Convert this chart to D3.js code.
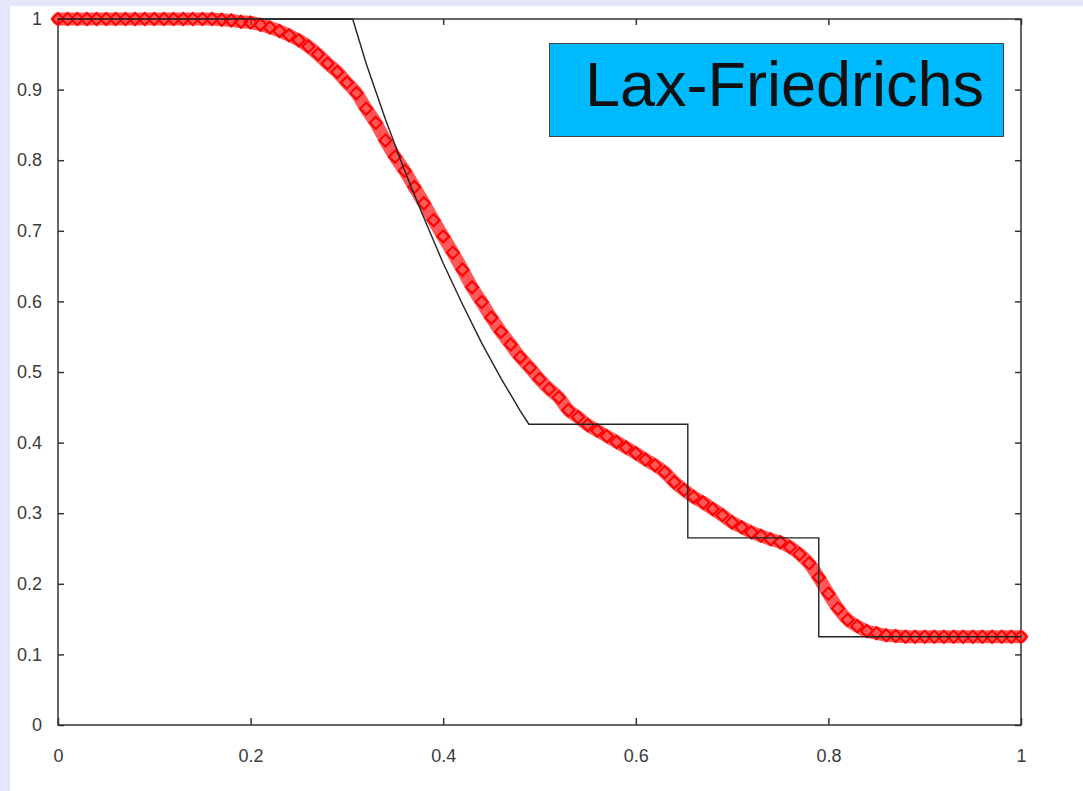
<!DOCTYPE html>
<html><head><meta charset="utf-8">
<script src="https://cdn.jsdelivr.net/npm/d3@7"></script>
<style>html,body{margin:0;padding:0;background:#fff;}svg{display:block;}</style>
</head><body>
<svg id="c" width="1083" height="791"></svg>
<script>
// Numerical (Lax-Friedrichs) density, x step 0.01
const numX = d3.range(0, 101).map(i => i / 100);
const numRho = [
 1.000,1.000,1.000,1.000,1.000,1.000,1.000,1.000,1.000,1.000,
 1.000,1.000,1.000,1.000,1.000,1.000,1.000,0.999,0.998,0.996,
 0.995,0.992,0.988,0.983,0.977,0.970,0.961,0.950,0.937,0.925,
 0.910,0.895,0.873,0.853,0.828,0.805,0.785,0.762,0.739,0.715,
 0.692,0.669,0.645,0.620,0.599,0.577,0.557,0.539,0.521,0.506,
 0.490,0.476,0.464,0.446,0.436,0.425,0.417,0.409,0.401,0.393,
 0.385,0.376,0.368,0.358,0.344,0.333,0.323,0.315,0.306,0.297,
 0.287,0.280,0.273,0.268,0.263,0.259,0.252,0.242,0.229,0.209,
 0.186,0.165,0.149,0.140,0.133,0.130,0.127,0.126,0.125,0.125,
 0.125,0.125,0.125,0.125,0.125,0.125,0.125,0.125,0.125,0.125,
 0.125
];
// Exact solution
const exactX   = [0, 0.306, 0.32, 0.34, 0.36, 0.38, 0.40, 0.42, 0.44, 0.46, 0.48, 0.489, 0.654, 0.654, 0.790, 0.790, 1.0];
const exactRho = [1, 1, 0.937, 0.858, 0.785, 0.718, 0.654, 0.596, 0.541, 0.491, 0.445, 0.426, 0.426, 0.265, 0.265, 0.125, 0.125];
const xTicks = [0, 0.2, 0.4, 0.6, 0.8, 1];
const yTicks = [0, 0.1, 0.2, 0.3, 0.4, 0.5, 0.6, 0.7, 0.8, 0.9, 1];
const titleText = "Lax-Friedrichs";

const svg = d3.select("#c");
const W = 1083, H = 791;
const L = 58, R = 1021, T = 19, B = 725;

svg.append("rect").attr("x",0).attr("y",0).attr("width",W).attr("height",H).attr("fill","#fff");
svg.append("rect").attr("x",0).attr("y",0).attr("width",W).attr("height",6).attr("fill","#e6e6fa");
svg.append("rect").attr("x",0).attr("y",0).attr("width",10).attr("height",H).attr("fill","#e6e6fa");

const x = d3.scaleLinear().domain([0,1]).range([L,R]);
const y = d3.scaleLinear().domain([0,1]).range([B,T]);

const axCol = "#333";
const fnt = "'Liberation Sans', Arial, sans-serif";

// frame
svg.append("rect").attr("x",L).attr("y",T).attr("width",R-L).attr("height",B-T)
  .attr("fill","none").attr("stroke",axCol).attr("stroke-width",1.5);

// axes with inward ticks
const gB = svg.append("g").attr("transform",`translate(0,${B})`)
  .call(d3.axisBottom(x).tickValues(xTicks).tickSize(-7).tickPadding(24).tickFormat(d3.format("")));
const gT = svg.append("g").attr("transform",`translate(0,${T})`)
  .call(d3.axisTop(x).tickValues(xTicks).tickSize(-6).tickFormat(""));
const gL = svg.append("g").attr("transform",`translate(${L},0)`)
  .call(d3.axisLeft(y).tickValues(yTicks).tickSize(-6).tickPadding(16).tickFormat(d3.format("")));
const gR = svg.append("g").attr("transform",`translate(${R},0)`)
  .call(d3.axisRight(y).tickValues(yTicks).tickSize(-6).tickFormat(""));
[gB,gT,gL,gR].forEach(g => {
  g.select(".domain").remove();
  g.selectAll(".tick line").attr("stroke",axCol).attr("stroke-width",1.5);
  g.selectAll(".tick text").attr("fill","#3a3a3a").style("font-family",fnt).style("font-size","18px");
});

// numerical solution band + diamond markers
const num = numX.map((v,i) => [v, numRho[i]]);
svg.append("path").datum(num)
  .attr("d", d3.line().x(d=>x(d[0])).y(d=>y(d[1])).curve(d3.curveMonotoneX))
  .attr("fill","none").attr("stroke","#ff1010").attr("stroke-opacity",0.7)
  .attr("stroke-width",13).attr("stroke-linejoin","round").attr("stroke-linecap","round");
const sym = d3.symbol().type(d3.symbolDiamond2).size(95);
svg.append("g").selectAll("path").data(num).join("path")
  .attr("transform", d => `translate(${x(d[0])},${y(d[1])})`)
  .attr("d", sym).attr("fill","none").attr("stroke","#ff0000").attr("stroke-width",2);

// exact solution
const ex = exactX.map((v,i) => [v, exactRho[i]]);
svg.append("path").datum(ex)
  .attr("d", d3.line().x(d=>x(d[0])).y(d=>y(d[1])))
  .attr("fill","none").attr("stroke","#222").attr("stroke-width",1.4);

// title box
svg.append("rect").attr("x",549.5).attr("y",43.5).attr("width",454).attr("height",93)
  .attr("fill","#00baff").attr("stroke","#444").attr("stroke-width",1);
svg.append("text").attr("x",585).attr("y",106).text(titleText)
  .attr("fill","#111").style("font-family",fnt).style("font-size","63px");
</script>
</body></html>
